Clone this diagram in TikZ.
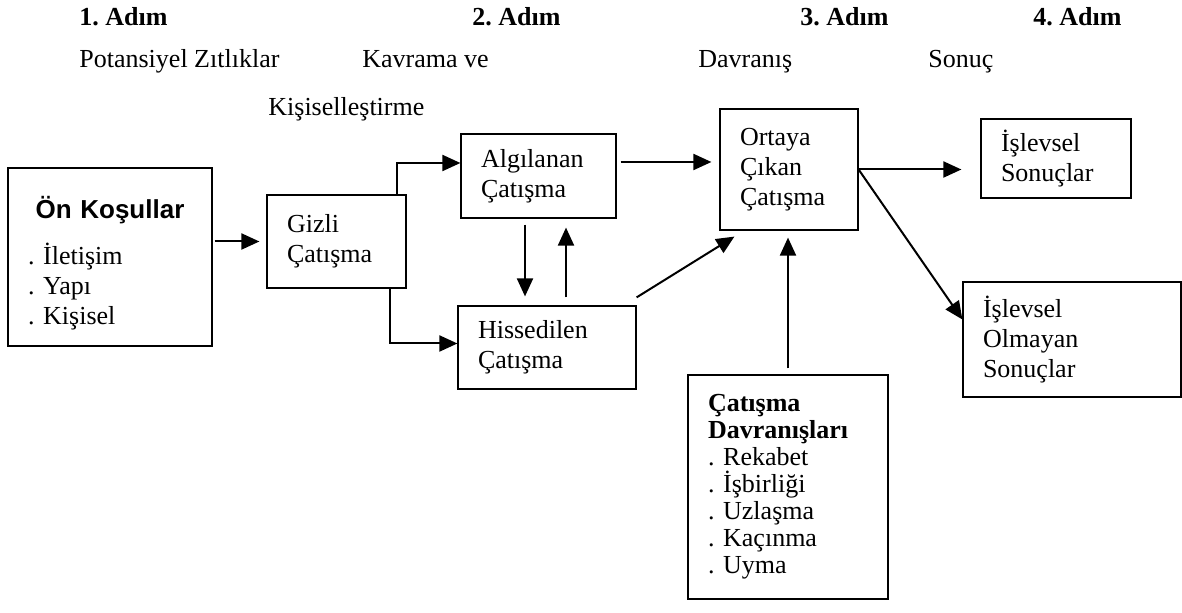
\documentclass[tikz,border=0pt]{standalone}
\usepackage{fontspec}
\setmainfont{Liberation Serif}
\newfontfamily\headfont{Liberation Sans}
\usetikzlibrary{arrows.meta}
\frenchspacing

\begin{document}
\begin{tikzpicture}[x=0.5pt,y=-0.5pt,
    box/.style={draw,line width=0.6pt,inner ysep=0pt,inner xsep=10pt,
                align=left,font=\fontsize{13}{15}\selectfont},
    steplabel/.style={anchor=base west,inner sep=0pt,
                      font=\fontsize{13}{15}\selectfont\bfseries},
    stagelabel/.style={anchor=base west,inner sep=0pt,
                       font=\fontsize{13}{15}\selectfont},
    arrow/.style={-{Triangle[length=9pt,width=8pt]},line width=1pt}]
  \useasboundingbox (0,0) rectangle (1182,613);

  % headings
  \node[steplabel] (s1) at (79,26) {1. Adım};
  \node[steplabel] (s2) at (472,26) {2. Adım};
  \node[steplabel] (s3) at (800,26) {3. Adım};
  \node[steplabel] (s4) at (1033,26) {4. Adım};
  \node[stagelabel] (t1) at (79,68) {Potansiyel Zıtlıklar};
  \node[stagelabel] (t2) at (362,68) {Kavrama ve};
  \node[stagelabel] (t2b) at (268,116) {Kişiselleştirme};
  \node[stagelabel] (t3) at (698,68) {Davranış};
  \node[stagelabel] (t4) at (928,68) {Sonuç};

  % boxes
  \node[box,minimum width=102pt,minimum height=89pt,text width=82pt] (cond) at (110,257)
    {\makebox[82pt][c]{\rule{0pt}{17pt}\headfont\bfseries\fontsize{13}{15}\selectfont Ön Koşullar}\\[8pt]
     . İletişim\\. Yapı\\. Kişisel};
  \node[box,minimum width=69.5pt,minimum height=46.5pt,text width=49.5pt] (latent) at (336.5,241.5)
    {Gizli\\Çatışma};
  \node[box,minimum width=77.5pt,minimum height=42pt,text width=57.5pt] (perceived) at (538.5,176)
    {Algılanan\\Çatışma};
  \node[box,minimum width=89pt,minimum height=41.5pt,text width=69pt] (felt) at (547,347.5)
    {Hissedilen\\Çatışma};
  \node[box,minimum width=69pt,minimum height=60.5pt,text width=49pt] (manifest) at (789,169.5)
    {Ortaya\\Çıkan\\Çatışma};
  \node[box,minimum width=75pt,minimum height=39.5pt,text width=55pt] (func) at (1056,158.5)
    {İşlevsel\\Sonuçlar};
  \node[box,minimum width=109pt,minimum height=57.5pt,text width=89pt] (dysfunc) at (1072,339.5)
    {İşlevsel\\Olmayan\\Sonuçlar};
  \node[box,minimum width=100pt,minimum height=112pt,text width=80pt,
        font=\fontsize{13}{13.5}\selectfont] (behav) at (788,487)
    {\textbf{Çatışma}\\\textbf{Davranışları}\\. Rekabet\\. İşbirliği\\. Uzlaşma\\. Kaçınma\\. Uyma};

  % arrows
  \draw[arrow,shorten <=1pt,shorten >=3.5pt] (cond.east |- latent.west) -- (latent.west);
  \draw[arrow] ([xshift=-5pt]latent.north east) |- ([yshift=6.5pt]perceived.west);
  \draw[arrow] ([xshift=-8.5pt]latent.south east) |- ([yshift=2pt]felt.west);
  \draw[arrow,shorten <=3pt,shorten >=4.5pt] ([xshift=-6.75pt]perceived.south)
    -- ([xshift=-6.75pt]perceived.south |- felt.north);
  \draw[arrow,shorten <=4pt,shorten >=4.5pt] ([xshift=13.75pt]perceived.south |- felt.north)
    -- ([xshift=13.75pt]perceived.south);
  \draw[arrow,shorten <=2pt,shorten >=4pt] ([yshift=7pt]perceived.east)
    -- ([yshift=7pt]perceived.east -| manifest.west);
  \draw[arrow] ([yshift=4pt]felt.north east) -- ([shift={(7.5pt,-3pt)}]manifest.south west);
  \draw[arrow,shorten <=3pt,shorten >=3.5pt] (behav.north) -- (behav.north |- manifest.south);
  \draw[arrow,shorten >=9.5pt] (manifest.east) -- (manifest.east -| func.west);
  \draw[arrow] (manifest.east) -- ([yshift=10pt]dysfunc.west);
\end{tikzpicture}
\end{document}
